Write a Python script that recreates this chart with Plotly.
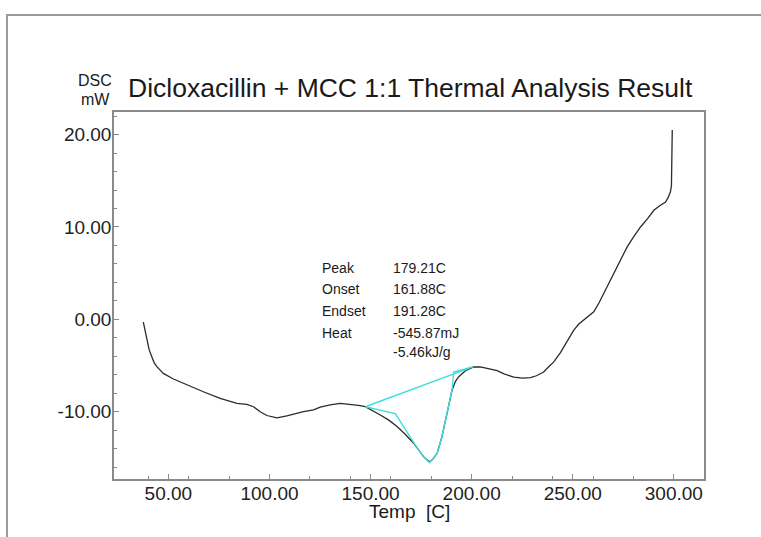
import plotly.graph_objects as go

# DSC curve
temp_c = [37.6, 38.5, 39.3, 40.5, 41.8, 43.0, 44.3, 47.5, 52.5, 59.1, 67.3, 75.6, 83.9, 88.8,
          92.1, 95.4, 98.7, 103.7, 108.6, 116.8, 121.8, 125.1, 130.0, 135.0, 140.0, 144.0,
          147.4, 151.0, 154.8, 159.0, 163.1, 167.0, 171.3, 174.0, 176.2, 178.0, 179.2, 180.5,
          182.9, 185.3, 187.8, 190.3, 192.0, 193.6, 196.9, 201.0, 204.3, 208.0, 212.6, 216.0,
          220.8, 225.0, 229.1, 232.0, 235.6, 238.1, 240.6, 243.9, 247.0, 250.5, 253.0, 255.4,
          258.0, 260.4, 263.0, 265.3, 268.5, 271.9, 276.9, 280.0, 283.5, 287.0, 290.1, 293.0,
          295.9, 297.2, 298.3, 298.8, 298.9, 299.1, 299.2]
dsc_mw = [-0.3, -1.2, -2.24, -3.3, -4.04, -4.7, -5.12, -5.84, -6.45, -7.1, -7.83, -8.54, -9.08, -9.19,
          -9.45, -9.99, -10.4, -10.65, -10.45, -9.99, -9.8, -9.5, -9.25, -9.08, -9.16, -9.3,
          -9.45, -9.85, -10.35, -10.9, -11.6, -12.4, -13.4, -14.2, -14.85, -15.2, -15.4, -15.2,
          -14.5, -12.7, -10.2, -7.64, -6.7, -6.2, -5.56, -5.15, -5.15, -5.3, -5.55, -5.9,
          -6.25, -6.35, -6.3, -6.1, -5.7, -5.12, -4.6, -3.6, -2.4, -1.16, -0.5, -0.05,
          0.4, 0.82, 1.8, 2.81, 4.2, 5.69, 7.85, 8.9, 10.0, 10.9, 11.8, 12.3,
          12.7, 13.2, 13.8, 14.5, 16.3, 18.5, 20.5]

# peak analysis construction lines (cyan)
analysis_t = [147.4, 162.2, 171.3, 176.2, 179.2, 182.9, 185.3, 187.8, 190.3, 191.1, 200.8, 147.4]
analysis_v = [-9.45, -10.2, -13.3, -14.9, -15.5, -14.5, -12.7, -10.2, -7.6, -5.7, -5.12, -9.45]

result_labels = ["Peak", "Onset", "Endset", "Heat", ""]
result_values = ["179.21C", "161.88C", "191.28C", "-545.87mJ", "-5.46kJ/g"]

x_major = [50, 100, 150, 200, 250, 300]
y_major = [-10, 0, 10, 20]
x_major_text = ["50.00", "100.00", "150.00", "200.00", "250.00", "300.00"]
y_major_text = ["-10.00", "0.00", "10.00", "20.00"]

FONT = "Liberation Sans, Arial, sans-serif"
AXC = "#8a8a8a"

fig = go.Figure()
fig.add_trace(go.Scatter(x=temp_c, y=dsc_mw, mode="lines",
                         line=dict(color="#2b2b2b", width=1.3), showlegend=False,
                         hoverinfo="skip"))
fig.add_trace(go.Scatter(x=analysis_t, y=analysis_v, mode="lines",
                         line=dict(color="#3fdede", width=1.4), showlegend=False,
                         hoverinfo="skip"))

fig.update_xaxes(range=[23.1, 314.9], tickmode="array", tickvals=x_major, ticktext=x_major_text,
                 ticks="inside", ticklen=5, tickcolor=AXC, ticklabelstandoff=-4,
                 minor=dict(ticks="inside", ticklen=3, tick0=0, dtick=20, tickcolor=AXC),
                 showline=True, linecolor=AXC, linewidth=1.5, mirror=True,
                 showgrid=False, zeroline=False,
                 tickfont=dict(family=FONT, size=19, color="#222"))
fig.update_yaxes(range=[-17.27, 22.44], tickmode="array", tickvals=y_major, ticktext=y_major_text,
                 ticks="inside", ticklen=5, tickcolor=AXC, ticklabelstandoff=-3,
                 minor=dict(ticks="inside", ticklen=3, tick0=0, dtick=2, tickcolor=AXC),
                 showline=True, linecolor=AXC, linewidth=1.5, mirror=True,
                 showgrid=False, zeroline=False,
                 tickfont=dict(family=FONT, size=19, color="#222"))

ann = []
ann.append(dict(text="Dicloxacillin + MCC 1:1 Thermal Analysis Result", x=0.5017, y=1.0654,
                xref="paper", yref="paper", xanchor="center", yanchor="middle", showarrow=False,
                font=dict(family=FONT, size=26.5, color="#1a1a1a")))
ann.append(dict(text="DSC", x=-0.032, y=1.087, xref="paper", yref="paper",
                xanchor="center", yanchor="middle", showarrow=False,
                font=dict(family=FONT, size=16, color="#1a1a1a")))
ann.append(dict(text="mW", x=-0.032, y=1.0327, xref="paper", yref="paper",
                xanchor="center", yanchor="middle", showarrow=False,
                font=dict(family=FONT, size=16, color="#1a1a1a")))
ann.append(dict(text="Temp  [C]", x=0.5, y=-0.0899, xref="paper", yref="paper",
                xanchor="center", yanchor="middle", showarrow=False,
                font=dict(family=FONT, size=19, color="#1a1a1a")))
row_y = [0.575, 0.518, 0.458, 0.398, 0.346]
for lab, val, yy in zip(result_labels, result_values, row_y):
    if lab:
        ann.append(dict(text=lab, x=0.349, y=yy, xref="paper", yref="paper",
                        xanchor="left", yanchor="middle", showarrow=False,
                        font=dict(family=FONT, size=14, color="#1a1a1a")))
    ann.append(dict(text=val, x=0.469, y=yy, xref="paper", yref="paper",
                    xanchor="left", yanchor="middle", showarrow=False,
                    font=dict(family=FONT, size=14, color="#1a1a1a")))

fig.update_layout(
    width=761, height=537, autosize=False,
    margin=dict(l=114, r=57, t=112, b=58, pad=0),
    paper_bgcolor="white", plot_bgcolor="white",
    annotations=ann,
    shapes=[dict(type="path", xref="paper", yref="paper",
                 path="M -0.1814,-0.3 L -0.1814,1.2643 L 1.2,1.2643",
                 line=dict(color="#9a9a9a", width=2))],
)

# remove the default 8px page margin so the figure sits at the window's top-left
fig.write_html("out.html", config={"displayModeBar": False},
               post_script="document.body.style.margin='0';")
